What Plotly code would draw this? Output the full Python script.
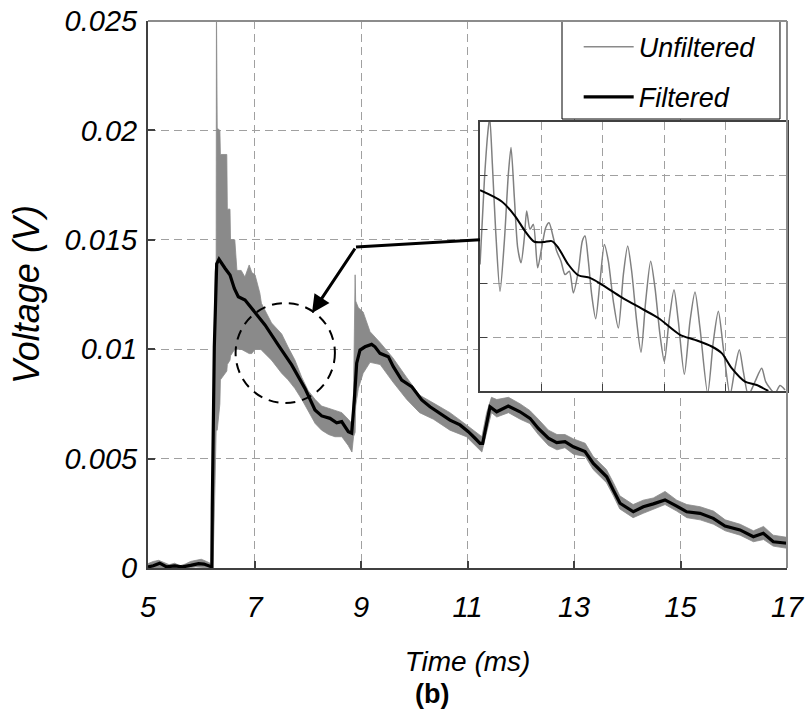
import plotly.graph_objects as go

# ---------------- data ----------------
x_ticks = [5, 7, 9, 11, 13, 15, 17]
y_ticks = [0, 0.005, 0.01, 0.015, 0.02, 0.025]
y_ticktext = ["0", "0.005", "0.01", "0.015", "0.02", "0.025"]

# Filtered signal (main chart)
t_filtered = [5.00, 5.10, 5.22, 5.35, 5.50, 5.65, 5.80, 5.95, 6.05, 6.15, 6.20, 6.207, 6.245, 6.29,
              6.333, 6.446, 6.54, 6.621, 6.696, 6.822, 7.009, 7.197, 7.447, 7.698, 7.948, 8.136,
              8.262, 8.418, 8.543, 8.637, 8.762, 8.825, 8.875, 8.919, 8.981, 9.075, 9.2, 9.263,
              9.357, 9.513, 9.607, 9.764, 9.952, 10.14, 10.296, 10.483, 10.671, 10.859, 11.015,
              11.141, 11.235, 11.285, 11.36, 11.423, 11.548, 11.766, 11.986, 12.174, 12.33,
              12.518, 12.675, 12.831, 12.987, 13.207, 13.363, 13.614, 13.738, 13.864, 14.114,
              14.302, 14.489, 14.709, 14.928, 15.116, 15.366, 15.616, 15.836, 16.117, 16.368,
              16.555, 16.743, 17.0]
v_filtered = [0.00005, 0.0001, 0.00022, 0.00005, 0.0001, 0.00005, 0.00012, 0.0002, 0.00018, 0.0001,
              0.00005, 0.0028, 0.0101, 0.0139, 0.01411, 0.0137, 0.01339, 0.01278, 0.0124, 0.01225,
              0.01171, 0.01111, 0.01019, 0.00928, 0.00821, 0.00722, 0.00695, 0.00684, 0.00664,
              0.00669, 0.00623, 0.00616, 0.00768, 0.00936, 0.00996, 0.01011, 0.01022, 0.01011,
              0.00981, 0.00966, 0.0092, 0.00859, 0.00829, 0.00768, 0.00737, 0.00707, 0.00676,
              0.00654, 0.00623, 0.00593, 0.0057, 0.0057, 0.00654, 0.00737, 0.00714, 0.0074,
              0.00714, 0.00684, 0.00638, 0.00593, 0.00573, 0.00577, 0.00554, 0.00532, 0.00478,
              0.00417, 0.00356, 0.00296, 0.00257, 0.0028, 0.00293, 0.00311, 0.00283, 0.00257,
              0.0025, 0.00227, 0.00192, 0.00174, 0.00143, 0.00159, 0.0012, 0.00113]

# Unfiltered signal (main chart): upper / lower envelope of the noisy trace
t_unf = [5.00, 5.10, 5.20, 5.30, 5.40, 5.50, 5.60, 5.70, 5.80, 5.90, 6.00, 6.10, 6.18, 6.22, 6.26,
         6.28, 6.285, 6.30, 6.35, 6.36, 6.48, 6.49, 6.54, 6.55, 6.63, 6.67, 6.75, 6.82, 6.90, 6.95,
         7.01, 7.10, 7.13, 7.32, 7.51, 7.63, 7.76, 7.89, 8.01, 8.14, 8.26, 8.39, 8.51, 8.64, 8.76,
         8.83, 8.86, 8.89, 8.90, 8.95, 9.04, 9.17, 9.36, 9.60, 9.86, 10.10, 10.36, 10.67, 10.98,
         11.17, 11.27, 11.36, 11.45, 11.55, 11.77, 11.99, 12.17, 12.33, 12.52, 12.68, 12.83, 12.99,
         13.21, 13.36, 13.61, 13.74, 13.86, 14.11, 14.30, 14.49, 14.71, 14.93, 15.12, 15.37, 15.62,
         15.84, 16.12, 16.37, 16.56, 16.74, 17.00]
v_unf_upper = [0.0002, 0.0003, 0.00035, 0.00025, 0.00015, 0.00022, 0.0001, 0.00018, 0.0003, 0.00035,
               0.0004, 0.0003, 0.0002, 0.0060, 0.0135, 0.0140, 0.0260, 0.0201, 0.0200, 0.0189,
               0.0189, 0.0164, 0.0164, 0.0150, 0.0150, 0.0136, 0.0136, 0.0133, 0.01385, 0.0135,
               0.0134, 0.01257, 0.0121, 0.0112, 0.0107, 0.0101, 0.0095, 0.0087, 0.0081, 0.0077,
               0.0074, 0.0073, 0.0072, 0.0071, 0.0068, 0.0066, 0.0080, 0.0134, 0.0122, 0.0119,
               0.0117, 0.0108, 0.0103, 0.0096, 0.0087, 0.0079, 0.00754, 0.0071, 0.00654, 0.0062,
               0.0060, 0.0071, 0.0078, 0.0077, 0.0078, 0.0075, 0.0072, 0.0068, 0.0063, 0.0061,
               0.0061, 0.0059, 0.0057, 0.0051, 0.0045, 0.0039, 0.0033, 0.0029, 0.0031, 0.0032,
               0.0035, 0.0031, 0.0029, 0.0028, 0.0026, 0.0022, 0.0020, 0.0017, 0.0019, 0.0015, 0.0014]
v_unf_lower = [0.0, 0.0, 0.00002, 0.0, 0.0, 0.0, 0.0, 0.0, 0.00002, 0.00005,
               0.00005, 0.00002, 0.0, 0.0, 0.0040, 0.0063, 0.0063, 0.0063, 0.0075, 0.0086,
               0.0090, 0.0093, 0.0095, 0.0097, 0.0100, 0.0100, 0.0100, 0.0099, 0.0098, 0.0098,
               0.0100, 0.0100, 0.00996, 0.0095, 0.0089, 0.0086, 0.0082, 0.0077, 0.0072, 0.0066,
               0.0063, 0.0061, 0.0060, 0.0060, 0.0056, 0.0053, 0.0060, 0.0062, 0.0074, 0.0082,
               0.0089, 0.0094, 0.0093, 0.0085, 0.0077, 0.0071, 0.0068, 0.0063, 0.0060, 0.00554,
               0.0053, 0.0062, 0.0071, 0.0069, 0.0071, 0.0068, 0.0066, 0.0061, 0.0056, 0.0054,
               0.0055, 0.0052, 0.0051, 0.0045, 0.0039, 0.0033, 0.0027, 0.0023, 0.0025, 0.0027,
               0.0029, 0.0026, 0.0023, 0.0022, 0.0020, 0.0017, 0.0015, 0.0012, 0.0013, 0.0010, 0.0009]

# Inset (zoom of 7-8 ms)
t_inset_unf = [7.000, 7.0141, 7.025, 7.0315, 7.0402, 7.051, 7.0651, 7.0793, 7.0923, 7.101, 7.1118,
               7.1227, 7.1336, 7.1444, 7.152, 7.1629, 7.1737, 7.1878, 7.2009, 7.2139, 7.2248,
               7.2389, 7.2497, 7.2638, 7.2769, 7.291, 7.304, 7.3203, 7.3333, 7.342, 7.3529,
               7.3637, 7.3768, 7.3909, 7.405, 7.418, 7.4343, 7.4506, 7.4669, 7.481, 7.494,
               7.5103, 7.5244, 7.5396, 7.5559, 7.57, 7.5863, 7.6004, 7.6156, 7.6319, 7.646,
               7.6656, 7.684, 7.7003, 7.7166, 7.7416, 7.76, 7.7763, 7.7926, 7.8143, 7.8306,
               7.8447, 7.8578, 7.874, 7.8958, 7.9175, 7.9305, 7.9446, 7.9609, 7.9772, 7.9935]
v_inset_unf = [0.010551, 0.012106, 0.012976, 0.013287, 0.012416, 0.011173, 0.010053, 0.010986,
               0.01223, 0.012727, 0.011795, 0.010862, 0.010582, 0.011048, 0.011546, 0.011204,
               0.011297, 0.010489, 0.010862, 0.011235, 0.011328, 0.011048, 0.0108, 0.010613,
               0.010364, 0.010426, 0.010022, 0.010426, 0.010986, 0.011079, 0.010613, 0.009991,
               0.009543, 0.01024, 0.010924, 0.010613, 0.009867, 0.009369, 0.010364, 0.010893,
               0.010426, 0.009494, 0.008921, 0.009867, 0.010613, 0.010115, 0.009245, 0.008747,
               0.009494, 0.010084, 0.009494, 0.008511, 0.009494, 0.010041, 0.009369, 0.008156,
               0.00912, 0.00968, 0.008996, 0.008125, 0.008623, 0.008965, 0.008561, 0.008125,
               0.008374, 0.008623, 0.008374, 0.00825, 0.008156, 0.0083, 0.008219]
t_inset_filt = [7.000, 7.0707, 7.114, 7.1466, 7.1769, 7.2062, 7.2336, 7.255, 7.2876, 7.3202,
                7.3583, 7.3964, 7.4616, 7.5267, 7.5808, 7.6515, 7.7003, 7.7547, 7.7873, 7.8199,
                7.8632, 7.9013, 7.9391]
v_inset_filt = [0.011931, 0.011721, 0.011452, 0.011172, 0.010974, 0.010967, 0.010986, 0.010862,
                0.010551, 0.010351, 0.010303, 0.010178, 0.009941, 0.00973, 0.009556, 0.009245,
                0.009151, 0.009027, 0.008903, 0.008624, 0.008374, 0.008312, 0.0082]

# ---------------- figure ----------------
FONT = "Liberation Sans, Arial, sans-serif"
GRAY = "#8a8a8a"
GRID = "#a0a0a0"
AXIS = "#404040"

fig = go.Figure()

fig.add_trace(go.Scatter(
    x=t_unf + t_unf[::-1], y=v_unf_upper + v_unf_lower[::-1],
    fill="toself", fillcolor=GRAY, mode="lines",
    line=dict(color=GRAY, width=0.8), showlegend=False, hoverinfo="skip"))
fig.add_trace(go.Scatter(
    x=[None], y=[None], mode="lines", name="Unfiltered",
    line=dict(color=GRAY, width=1.5), legendgroup="u"))
fig.add_trace(go.Scatter(
    x=t_filtered, y=v_filtered, mode="lines", name="Filtered",
    line=dict(color="black", width=3.2), legendgroup="f"))

fig.add_trace(go.Scatter(
    x=t_inset_unf, y=v_inset_unf, xaxis="x2", yaxis="y2", mode="lines",
    line=dict(color="#808080", width=1.5, shape="spline", smoothing=0.7), showlegend=False))
fig.add_trace(go.Scatter(
    x=t_inset_filt, y=v_inset_filt, xaxis="x2", yaxis="y2", mode="lines",
    line=dict(color="black", width=2, shape="spline", smoothing=0.8), showlegend=False))


def ifont(size):
    return dict(family=FONT, size=size, color="black", style="italic")


fig.update_layout(
    width=807, height=719,
    margin=dict(l=148, r=20, t=21, b=151, autoexpand=False),
    paper_bgcolor="white", plot_bgcolor="white",
    font=dict(family=FONT, color="black"),
    xaxis=dict(
        range=[5, 17], tickvals=x_ticks, ticks="inside", ticklen=7, tickwidth=1.5,
        tickcolor=AXIS, showline=True, linecolor=AXIS, linewidth=2, automargin=False,
        showgrid=True, gridcolor=GRID, griddash="8px,5px", gridwidth=1,
        zeroline=False, tickfont=ifont(29), ticklabelstandoff=12,
        title=dict(text="Time (ms)", font=ifont(28), standoff=30)),
    yaxis=dict(
        range=[0, 0.025], tickvals=y_ticks, ticktext=y_ticktext, ticks="inside",
        ticklen=7, tickwidth=1.5, tickcolor=AXIS, showline=True, linecolor=AXIS,
        linewidth=2, showgrid=True, gridcolor=GRID, griddash="8px,5px", gridwidth=1,
        zeroline=False, tickfont=ifont(29), ticklabelstandoff=3, automargin=False,
        title=dict(text="Voltage (V)", font=ifont(36), standoff=14)),
    xaxis2=dict(
        domain=[0.5196, 1.0], anchor="y2", range=[7.0, 8.0], tick0=7.0, dtick=0.2,
        showticklabels=False, ticks="inside", ticklen=7, tickcolor=AXIS,
        showline=True, linecolor=AXIS, linewidth=1.5, mirror=True, automargin=False,
        showgrid=True, gridcolor=GRID, griddash="8px,5px", gridwidth=1, zeroline=False),
    yaxis2=dict(
        domain=[0.3236, 0.8154], anchor="x2", range=[0.0082, 0.0132], tick0=0.0082,
        dtick=0.001, showticklabels=False, ticks="inside", ticklen=7, tickcolor=AXIS,
        showline=True, linecolor=AXIS, linewidth=1.5, mirror=True, automargin=False,
        showgrid=True, gridcolor=GRID, griddash="8px,5px", gridwidth=1, zeroline=False),
    legend=dict(
        x=0.674, xanchor="left", y=0.997, yanchor="top",
        bgcolor="rgba(0,0,0,0)", borderwidth=0,
        font=ifont(27),
        itemwidth=50, traceorder="grouped", tracegroupgap=12),
    showlegend=True,
)

# legend frame
fig.add_shape(type="rect", xref="paper", yref="paper", x0=0.6479, x1=0.989, y0=0.8208, y1=1.0,
              fillcolor="white", line=dict(color="black", width=1), layer="above")

# plot-area border (top and right, lighter gray)
fig.add_shape(type="line", xref="x domain", yref="y domain", x0=0, x1=1, y0=1, y1=1,
              line=dict(color="#8c8c8c", width=2), layer="above")
fig.add_shape(type="line", xref="x domain", yref="y domain", x0=1, x1=1, y0=0, y1=1,
              line=dict(color="#8c8c8c", width=2), layer="above")

# dashed circle marking the zoomed region
fig.add_shape(type="circle", xref="x", yref="y", x0=6.645, x1=8.51, y0=0.00754, y1=0.01211,
              line=dict(color="black", width=2, dash="10px,7px"), layer="above")

# connector from inset to the circle
fig.add_shape(type="line", xref="x", yref="y", x0=8.906, y0=0.01467, x1=11.235, y1=0.0150,
              line=dict(color="black", width=3), layer="above")
fig.add_annotation(x=8.08, y=0.01165, xref="x", yref="y", ax=8.906, ay=0.01467,
                   axref="x", ayref="y", text="", showarrow=True, arrowhead=2,
                   arrowsize=1.2, arrowwidth=3, arrowcolor="black")

# sub-figure label
fig.add_annotation(x=0.444, y=-0.2303, xref="paper", yref="paper", text="<b>(b)</b>",
                   showarrow=False, yanchor="middle",
                   font=dict(family=FONT, size=27, color="black"))

fig.write_html("out.html")
